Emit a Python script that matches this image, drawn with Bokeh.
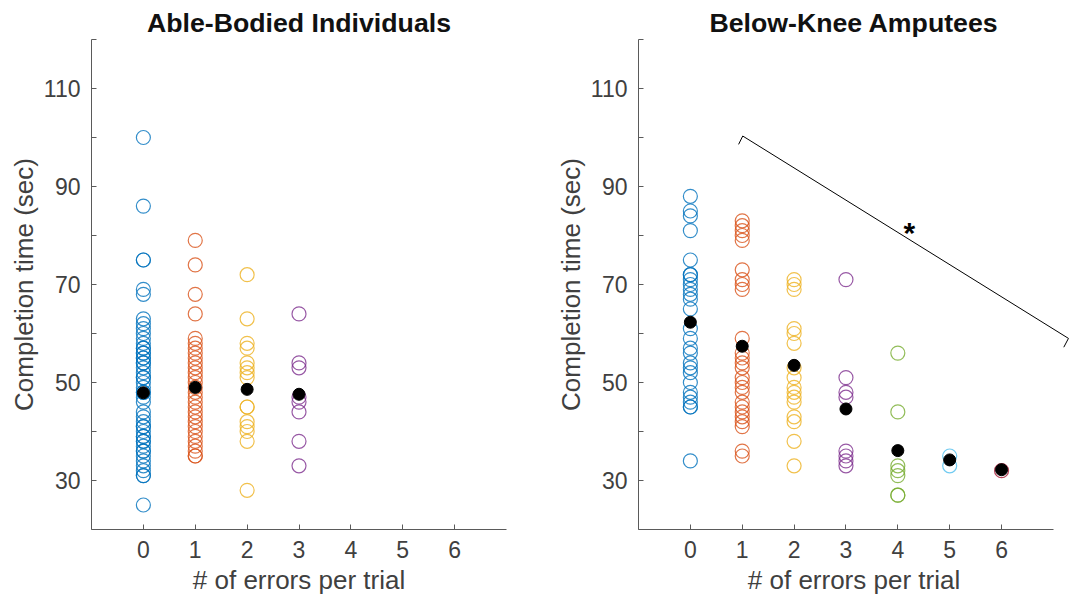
from bokeh.plotting import figure
from bokeh.layouts import row
from bokeh.models import ColumnDataSource, FixedTicker, Label
from bokeh.embed import file_html
from bokeh.resources import INLINE

# ---------------- data ----------------
error_counts = [0, 1, 2, 3, 4, 5, 6]
group_colors = ["#0072BD", "#D95319", "#EDB120", "#7E2F8E", "#77AC30", "#4DBEEE", "#A2142F"]

# Able-bodied individuals: completion time (sec) per number of errors
ab_err0 = [100, 86, 75, 75, 69, 68, 63, 62, 61, 60, 59, 58, 57, 57, 56, 56, 55, 55, 54, 54,
           53, 52, 51, 51, 50, 49, 48, 48, 47, 46, 44, 43, 42, 41, 41, 40, 39, 39, 38, 38,
           37, 36, 36, 35, 34, 33, 32, 31, 31, 25]
ab_err1 = [79, 74, 68, 64, 59, 58, 57, 56, 55, 54, 53, 52, 51, 50, 49, 48, 47, 46, 45, 44,
           43, 42, 41, 40, 39, 38, 37, 36, 35, 35]
ab_err2 = [72, 63, 58, 57, 54, 53, 52, 51, 45, 45, 42, 41, 40, 38, 28]
ab_err3 = [64, 54, 53, 47, 46, 44, 38, 33]
ab_groups = [ab_err0, ab_err1, ab_err2, ab_err3]
ab_means = [47.9, 49.0, 48.6, 47.6]

# Below-knee amputees
bk_err0 = [88, 85, 84, 81, 75, 72, 72, 71, 70, 69, 68, 67, 65, 61, 59, 57, 56, 54, 53, 52,
           50, 48, 47, 46, 45, 45, 34]
bk_err1 = [83, 82, 81, 80, 79, 73, 71, 70, 69, 59, 56, 55, 54, 53, 51, 50, 49, 48, 46, 45,
           44, 43, 42, 41, 36, 35]
bk_err2 = [71, 70, 69, 61, 60, 58, 53, 51, 49, 48, 47, 46, 43, 42, 38, 33]
bk_err3 = [71, 51, 48, 47, 36, 35, 34, 33]
bk_err4 = [56, 44, 33, 32, 31, 27, 27]
bk_err5 = [35, 33]
bk_err6 = [32]
bk_groups = [bk_err0, bk_err1, bk_err2, bk_err3, bk_err4, bk_err5, bk_err6]
bk_means = [62.3, 57.4, 53.5, 44.6, 36.1, 34.2, 32.2]

# significance bracket (right panel)
sig_x = [0.93, 1.01, 7.29, 7.20]
sig_y = [98.6, 100.3, 59.0, 57.2]
sig_star_x = 4.22
sig_star_y = 80.6

y_major = [30, 50, 70, 90, 110]
y_minor = [20, 40, 60, 80, 100, 120]

FONT = "Liberation Sans"
TXT = "#404040"
AX = "#5a5a5a"


def make_panel(title, groups, means, frame_w, x_end, border_l, border_r):
    p = figure(frame_width=frame_w, frame_height=490, x_range=(-1, x_end), y_range=(20, 120),
               output_backend="svg", toolbar_location=None,
               min_border_left=border_l, min_border_right=border_r,
               min_border_top=39, min_border_bottom=65)
    p.outline_line_color = None
    p.grid.visible = False
    p.background_fill_color = "white"
    p.border_fill_color = "white"

    p.title.text = title
    p.title.text_font = FONT
    p.title.text_font_size = "26.7px"
    p.title.text_font_style = "bold"
    p.title.text_color = "#111111"
    p.title.align = "center"
    p.title.standoff = 4

    xs, ys, cs = [], [], []
    for k, vals in enumerate(groups):
        for v in vals:
            xs.append(error_counts[k])
            ys.append(v)
            cs.append(group_colors[k])
    src = ColumnDataSource(dict(x=xs, y=ys, c=cs))
    p.scatter("x", "y", source=src, marker="circle", size=14, fill_color=None,
              line_color="c", line_width=1.2, line_alpha=0.8)
    msrc = ColumnDataSource(dict(x=error_counts[:len(means)], y=means))
    p.scatter("x", "y", source=msrc, marker="circle", size=12, color="black")

    for ax in (p.xaxis[0], p.yaxis[0]):
        ax.axis_line_color = AX
        ax.major_tick_line_color = AX
        ax.minor_tick_line_color = AX
        ax.major_tick_in = 5
        ax.major_tick_out = 0
        ax.minor_tick_in = 5
        ax.minor_tick_out = 0
        ax.major_label_text_font = FONT
        ax.major_label_text_font_size = "23px"
        ax.major_label_text_color = TXT
        ax.axis_label_text_font = FONT
        ax.axis_label_text_font_size = "26px"
        ax.axis_label_text_font_style = "normal"
        ax.axis_label_text_color = TXT

    p.xaxis.ticker = FixedTicker(ticks=error_counts, minor_ticks=[])
    p.xaxis.bounds = (-1, 7)
    p.xaxis.axis_label = "# of errors per trial"
    p.xaxis.major_label_standoff = 11
    p.xaxis.axis_label_standoff = 4

    p.yaxis.ticker = FixedTicker(ticks=y_major, minor_ticks=y_minor)
    p.yaxis.axis_label = "Completion time (sec)"
    p.yaxis.major_label_standoff = 11
    p.yaxis.axis_label_standoff = 2
    return p


p1 = make_panel("Able-Bodied Individuals", ab_groups, ab_means, 415, 7, 91, 46)
p2 = make_panel("Below-Knee Amputees", bk_groups, bk_means, 431, 7.31, 85, 0)

p2.line(sig_x, sig_y, line_color="black", line_width=1)
p2.add_layout(Label(x=sig_star_x, y=sig_star_y, text="*", text_font=FONT,
                    text_font_size="30px", text_font_style="bold", text_color="black",
                    text_align="center", text_baseline="alphabetic"))

layout = row(p1, p2)
open("out.html", "w").write(file_html(layout, INLINE))
